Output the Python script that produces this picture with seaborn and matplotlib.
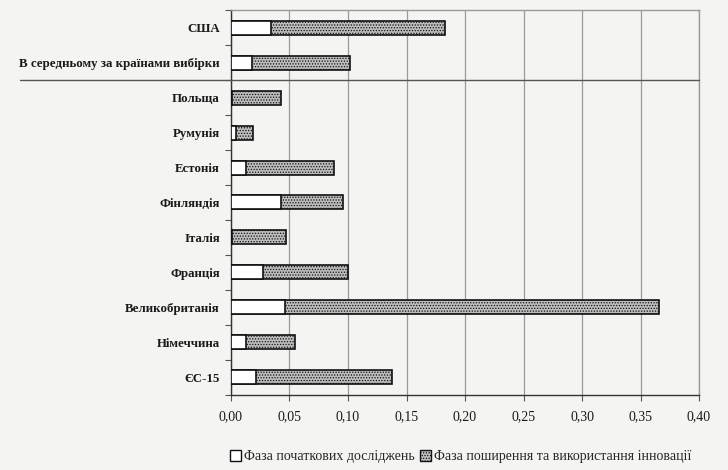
import numpy as np
import pandas as pd
import matplotlib
matplotlib.use("Agg")
import matplotlib.pyplot as plt
import matplotlib.transforms as mtransforms
from matplotlib.patches import Patch
from matplotlib.ticker import FuncFormatter, MultipleLocator
import seaborn as sns

# ── Data ──────────────────────────────────────────────────────────────────────
countries = [
    "США",
    "В середньому за країнами вибірки",
    "Польща",
    "Румунія",
    "Естонія",
    "Фінляндія",
    "Італія",
    "Франція",
    "Великобританія",
    "Німеччина",
    "ЄС-15",
]
research_phase = [0.034, 0.018, 0.001, 0.004, 0.013, 0.043, 0.001, 0.027, 0.046, 0.013, 0.021]
diffusion_phase = [0.149, 0.084, 0.042, 0.015, 0.075, 0.053, 0.046, 0.073, 0.320, 0.042, 0.117]
x_ticks = [0.0, 0.05, 0.10, 0.15, 0.20, 0.25, 0.30, 0.35, 0.40]

legend_labels = ["Фаза початкових досліджень", "Фаза поширення та використання інновації"]

# ── Style ─────────────────────────────────────────────────────────────────────
BG = "#f4f4f2"
sns.set_theme(style="white")
plt.rcParams["font.family"] = ["Liberation Serif", "DejaVu Serif"]
plt.rcParams["hatch.color"] = "#333333"
plt.rcParams["hatch.linewidth"] = 0.6

df = pd.DataFrame({
    "Country": countries,
    "Research": research_phase,
    "Diffusion": diffusion_phase,
})
df["Total"] = df["Research"] + df["Diffusion"]

fig = plt.figure(figsize=(7.28, 4.70), dpi=100, facecolor=BG)
ax = fig.add_axes([0.3173, 0.1596, 0.6429, 0.8191])
ax.set_facecolor(BG)

# total bar (dotted) first, research phase drawn over it in white
sns.barplot(data=df, y="Country", x="Total", orient="h", color="#bdbdbd",
            width=0.4, edgecolor="#111111", linewidth=1.2, ax=ax, zorder=3)
n_first = len(ax.patches)
for p in ax.patches:
    p.set_hatch("......")
sns.barplot(data=df, y="Country", x="Research", orient="h", color="white",
            width=0.4, edgecolor="#111111", linewidth=1.2, ax=ax, zorder=4)
for p in ax.patches[n_first:]:
    p.set_facecolor("white")
    p.set_zorder(4)

# ── Axes ──────────────────────────────────────────────────────────────────────
ax.set_xlim(0, 0.40)
ax.set_ylim(len(countries) - 0.5, -0.5)
ax.set_xticks(x_ticks)
ax.xaxis.set_major_formatter(FuncFormatter(lambda v, _: f"{v:.2f}".replace(".", ",")))
ax.set_xlabel("")
ax.set_ylabel("")
ax.grid(axis="x", color="#9a9a9a", linewidth=0.9, zorder=0)
ax.set_axisbelow(True)

ax.tick_params(axis="x", which="major", length=4, width=0.8, color="#555555",
               direction="out", bottom=True, labelsize=10, pad=7)
ax.tick_params(axis="y", which="major", length=0, labelsize=9.3, pad=8)
ax.yaxis.set_minor_locator(MultipleLocator(1, offset=0.5))
ax.tick_params(axis="y", which="minor", length=4, width=0.8, color="#555555",
               direction="out", left=True)
for lbl in ax.get_yticklabels():
    lbl.set_fontweight("bold")
    lbl.set_color("#1a1a1a")
for lbl in ax.get_xticklabels():
    lbl.set_color("#1a1a1a")

for side in ["top", "right"]:
    ax.spines[side].set_color("#9a9a9a")
    ax.spines[side].set_linewidth(1.0)
for side in ["left", "bottom"]:
    ax.spines[side].set_color("#333333")
    ax.spines[side].set_linewidth(1.0)

# separator line between summary rows and country rows
trans = mtransforms.blended_transform_factory(ax.transAxes, ax.transData)
ax.plot([-0.451, 1.0], [1.5, 1.5], transform=trans, color="#555555",
        linewidth=1.0, clip_on=False, zorder=5)

# ── Legend ────────────────────────────────────────────────────────────────────
handles = [
    Patch(facecolor="white", edgecolor="#111111", linewidth=1.0, label=legend_labels[0]),
    Patch(facecolor="#bdbdbd", edgecolor="#111111", linewidth=1.0, hatch="......",
          label=legend_labels[1]),
]
fig.legend(handles=handles, loc="center", bbox_to_anchor=(0.633, 0.028), ncol=2,
           frameon=False, handlelength=0.8, handleheight=0.8,
           handletextpad=0.2, columnspacing=0.4, borderaxespad=0,
           prop={"family": ["Liberation Serif", "DejaVu Serif"], "size": 10})

fig.savefig("out.png", dpi=100, facecolor=BG)
